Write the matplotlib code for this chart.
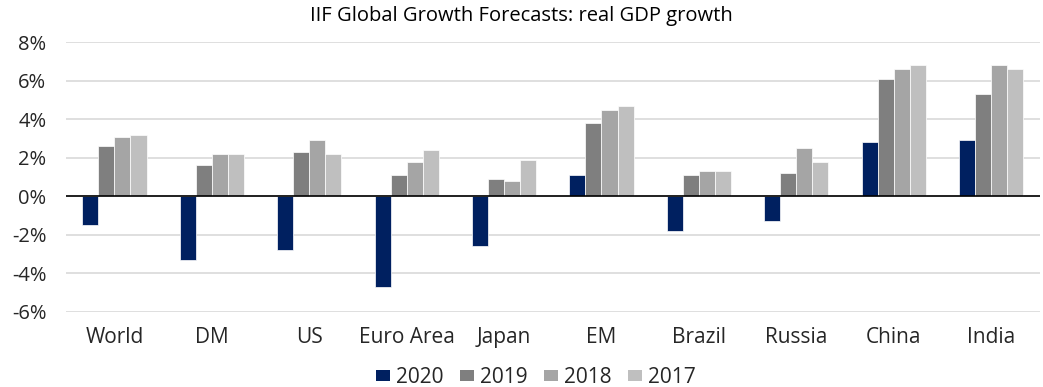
import matplotlib
matplotlib.use("Agg")
import matplotlib.pyplot as plt
import numpy as np

plt.rcParams['font.family'] = ['Open Sans', 'DejaVu Sans']

# data (percent)
categories = ["World", "DM", "US", "Euro Area", "Japan", "EM", "Brazil", "Russia", "China", "India"]
years = ["2020", "2019", "2018", "2017"]
g2020 = [-1.5, -3.3, -2.8, -4.7, -2.6, 1.1, -1.8, -1.3, 2.8, 2.9]
g2019 = [2.6, 1.6, 2.3, 1.1, 0.9, 3.8, 1.1, 1.2, 6.1, 5.3]
g2018 = [3.1, 2.2, 2.9, 1.8, 0.8, 4.5, 1.3, 2.5, 6.6, 6.8]
g2017 = [3.2, 2.2, 2.2, 2.4, 1.9, 4.7, 1.3, 1.8, 6.8, 6.6]
colors = ["#002060", "#7f7f7f", "#a5a5a5", "#bfbfbf"]

fig = plt.figure(figsize=(10.43, 3.87), dpi=100)
ax = fig.add_axes([0.063, 0.194, 0.934, 0.697])

x = np.arange(len(categories))
w = 0.165
for i, (vals, c, lab) in enumerate(zip([g2020, g2019, g2018, g2017], colors, years)):
    ax.bar(x + (i - 1.5) * w, vals, w, color=c, label=lab, edgecolor="white", linewidth=0.5, zorder=3)

ax.set_xlim(-0.5, len(categories) - 0.5)
ax.set_ylim(-6, 8)
ax.set_yticks(np.arange(-6, 9, 2))
ax.set_yticklabels([f"{v}%" for v in range(-6, 9, 2)], fontsize=14.5, color="#262626")
ax.yaxis.grid(True, color="#d9d9d9", linewidth=1.2, zorder=0)
ax.axhline(0, color="black", linewidth=1.2, zorder=4)
ax.set_xticks(x)
ax.set_xticklabels(categories, fontsize=15, color="#262626")
ax.tick_params(length=0, axis="both")
ax.tick_params(axis="x", pad=11)
ax.tick_params(axis="y", pad=14)
for s in ax.spines.values():
    s.set_visible(False)

fig.suptitle("IIF Global Growth Forecasts: real GDP growth", y=0.985, fontsize=14.5, color="black")
leg = fig.legend(loc="lower center", bbox_to_anchor=(0.514, -0.05), ncol=4, frameon=False,
                 fontsize=15, handlelength=0.65, handleheight=0.45, handletextpad=0.3, columnspacing=0.8)
for t in leg.get_texts():
    t.set_color("#262626")
for h in leg.legend_handles:
    h.set_edgecolor("none")

fig.savefig("out.png", dpi=100)
